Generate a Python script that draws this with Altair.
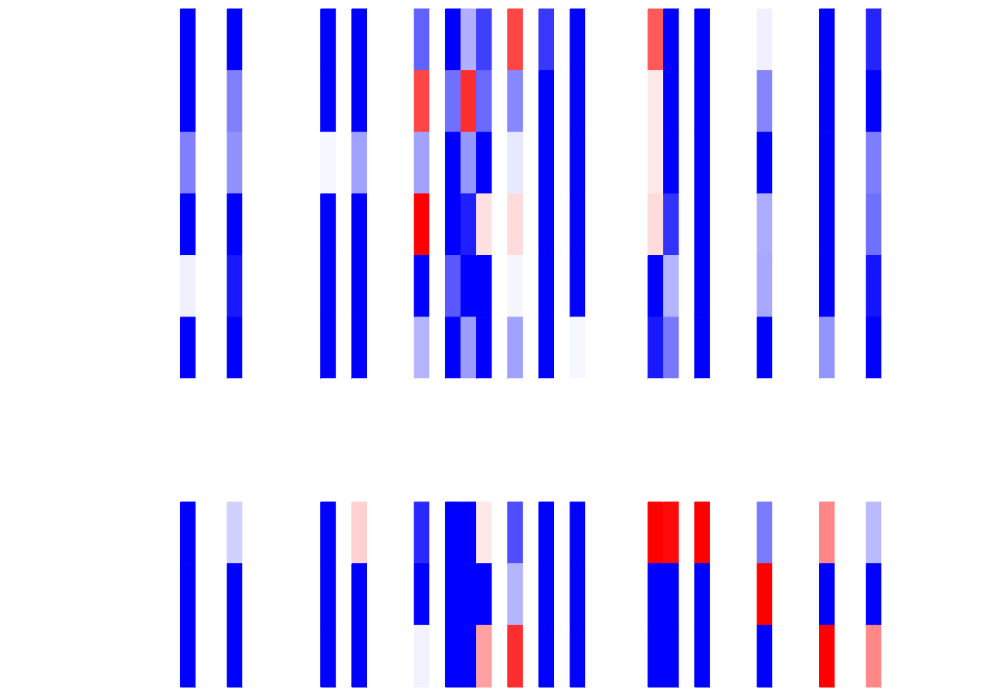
import altair as alt
import pandas as pd

n_cols = 63
rows = list(range(11))

# values per non-empty column (11 rows each, top to bottom); all other columns are 0
col_11 = [-1, -1, -0.5, -1, -0.06, -1, 0, 0, -1, -1, -1]
col_14 = [-1, -0.5, -0.43, -1, -0.9, -1, 0, 0, -0.18, -1, -1]
col_20 = [-1, -1, -0.03, -1, -1, -1, 0, 0, -1, -1, -1]
col_22 = [-1, -1, -0.37, -1, -1, -1, 0, 0, 0.18, -1, -1]
col_26 = [-0.62, 0.73, -0.37, 1, -1, -0.29, 0, 0, -0.84, -1, -0.05]
col_28 = [-1, -0.56, -1, -1, -0.65, -1, 0, 0, -1, -1, -1]
col_29 = [-0.31, 0.82, -0.41, -0.88, -1, -0.39, 0, 0, -1, -1, -1]
col_30 = [-0.75, -0.59, -1, 0.12, -1, -1, 0, 0, 0.09, -1, 0.37]
col_32 = [0.73, -0.47, -0.09, 0.14, -0.035, -0.37, 0, 0, -0.69, -0.29, 0.82]
col_34 = [-0.78, -1, -1, -1, -1, -1, 0, 0, -1, -1, -1]
col_36 = [-1, -1, -1, -1, -1, -0.03, 0, 0, -1, -1, -1]
col_41 = [0.65, 0.09, 0.09, 0.14, -1, -0.9, 0, 0, 1, -1, -1]
col_42 = [-1, -1, -1, -0.8, -0.29, -0.53, 0, 0, 0.96, -1, -1]
col_44 = [-1, -1, -1, -1, -1, -1, 0, 0, 1, -1, -1]
col_48 = [-0.06, -0.48, -1, -0.33, -0.34, -1, 0, 0, -0.52, 1, -1]
col_52 = [-1, -1, -1, -1, -1, -0.42, 0, 0, 0.47, -1, 1]
col_55 = [-0.86, -1, -0.51, -0.56, -0.92, -1, 0, 0, -0.27, -1, 0.47]

columns = {
    11: col_11, 14: col_14, 20: col_20, 22: col_22, 26: col_26, 28: col_28,
    29: col_29, 30: col_30, 32: col_32, 34: col_34, 36: col_36, 41: col_41,
    42: col_42, 44: col_44, 48: col_48, 52: col_52, 55: col_55,
}

records = []
for c in range(n_cols):
    vals = columns.get(c, [0] * len(rows))
    for r, v in zip(rows, vals):
        records.append({"col": c, "row": r, "value": v})
df = pd.DataFrame(records)

bwr = alt.Scale(domain=[-1, 0, 1],
                range=["#0000ff", "#ffffff", "#ff0000"],
                interpolate="rgb",
                clamp=True)

chart = (
    alt.Chart(df)
    .mark_rect(strokeWidth=1)
    .encode(
        x=alt.X("col:O", axis=None,
                scale=alt.Scale(paddingInner=0, paddingOuter=0)),
        y=alt.Y("row:O", axis=None,
                scale=alt.Scale(paddingInner=0, paddingOuter=0)),
        color=alt.Color("value:Q", legend=None, scale=bwr),
        stroke=alt.Stroke("value:Q", legend=None, scale=bwr),
    )
    .properties(
        width=984,
        height=680,
        padding=0,
        autosize=alt.AutoSizeParams(type="fit", contains="padding"),
    )
    .configure_view(stroke=None)
)

chart.save("out.html", embed_options={"renderer": "svg", "actions": False})
